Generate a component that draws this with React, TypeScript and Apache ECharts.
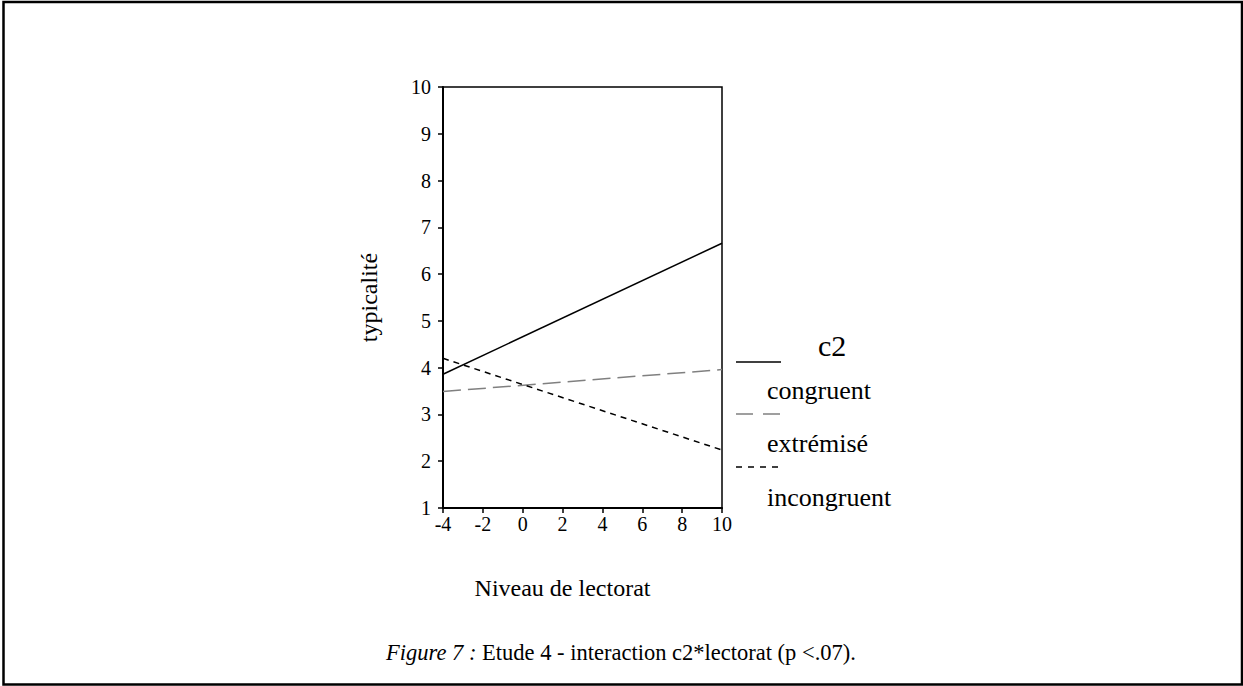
import React, { useEffect, useRef } from "react";
import * as echarts from "echarts";

const xTicks = { min: -4, max: 10, interval: 2 };
const yTicks = { min: 1, max: 10, interval: 1 };
const seriesNames = ["congruent", "extrémisé", "incongruent"];
const congruent = [[-4, 3.86], [10, 6.66]];
const extremise = [[-4, 3.49], [10, 3.96]];
const incongruent = [[-4, 4.2], [10, 2.24]];
const legendTitle = "c2";
const xName = "Niveau de lectorat";
const yName = "typicalité";

const FONT = "'Liberation Serif', 'Times New Roman', serif";

export default function App() {
  const ref = useRef<HTMLDivElement>(null);
  useEffect(() => {
    if (!ref.current) return;
    const chart = echarts.init(ref.current, null, { renderer: "svg" });
    const lineStyles = [
      { color: "#000", width: 1.5, type: "solid" as any },
      { color: "#808080", width: 1.5, type: [18, 7] as any },
      { color: "#000", width: 1.5, type: [6, 5] as any },
    ];
    const datas = [congruent, extremise, incongruent];
    const legendLineY = [362, 414, 467];
    const legendTextY = [390, 443, 497];
    const graphics: any[] = [
      {
        type: "rect",
        shape: { x: 3.5, y: 2, width: 1238.5, height: 682.5 },
        style: { fill: "none", stroke: "#000", lineWidth: 2.5 },
        silent: true,
      },
      {
        type: "text",
        x: 818,
        y: 345,
        style: { text: legendTitle, font: `30px ${FONT}`, fill: "#000", textVerticalAlign: "middle" },
      },
      {
        type: "text",
        x: 621,
        y: 652,
        style: {
          text: "{i|Figure 7 :} Etude 4 - interaction c2*lectorat (p <.07).",
          rich: {
            i: { fontStyle: "italic", fontSize: 22.5, fontFamily: FONT, fill: "#000" },
          },
          font: `22.5px ${FONT}`,
          fill: "#000",
          align: "center",
          verticalAlign: "middle",
        },
      },
    ];
    seriesNames.forEach((n, i) => {
      graphics.push({
        type: "line",
        shape: { x1: 736, y1: legendLineY[i], x2: 781, y2: legendLineY[i] },
        style: { stroke: lineStyles[i].color, lineWidth: 1.5, lineDash: i === 0 ? null : i === 1 ? [17, 10] : [6, 6] },
      });
      graphics.push({
        type: "text",
        x: 767,
        y: legendTextY[i],
        style: { text: n, font: `26px ${FONT}`, fill: "#000", textVerticalAlign: "middle" },
      });
    });
    chart.setOption({
      animation: false,
      grid: {
        left: 443,
        right: 1243 - 722,
        top: 87,
        bottom: 686 - 508,
        show: true,
        borderColor: "#000",
        borderWidth: 1.5,
        backgroundColor: "transparent",
      },
      xAxis: {
        type: "value",
        min: xTicks.min,
        max: xTicks.max,
        interval: xTicks.interval,
        name: xName,
        nameLocation: "middle",
        nameGap: 68,
        nameTextStyle: { fontFamily: FONT, fontSize: 24, color: "#000", padding: [0, 40, 0, 0] },
        axisLine: { show: true, onZero: false, lineStyle: { color: "#000", width: 2 } },
        axisTick: { show: true, length: 5, lineStyle: { color: "#000", width: 1.5 } },
        axisLabel: { fontFamily: FONT, fontSize: 20, color: "#000", margin: 6 },
        splitLine: { show: false },
      },
      yAxis: {
        type: "value",
        min: yTicks.min,
        max: yTicks.max,
        interval: yTicks.interval,
        name: yName,
        nameLocation: "middle",
        nameGap: 62,
        nameRotate: 90,
        nameTextStyle: { fontFamily: FONT, fontSize: 24, color: "#000" },
        axisLine: { show: true, onZero: false, lineStyle: { color: "#000", width: 2 } },
        axisTick: { show: true, length: 5, lineStyle: { color: "#000", width: 1.5 } },
        axisLabel: { fontFamily: FONT, fontSize: 20, color: "#000", margin: 12 },
        splitLine: { show: false },
      },
      graphic: graphics,
      series: seriesNames.map((n, i) => ({
        name: n,
        type: "line",
        data: datas[i],
        showSymbol: false,
        symbol: "none",
        lineStyle: lineStyles[i],
        silent: true,
      })),
    });
    return () => chart.dispose();
  }, []);
  return (
    <div
      ref={ref}
      style={{ position: "absolute", left: 0, top: 0, width: 1243, height: 686, background: "#fff" }}
    />
  );
}
